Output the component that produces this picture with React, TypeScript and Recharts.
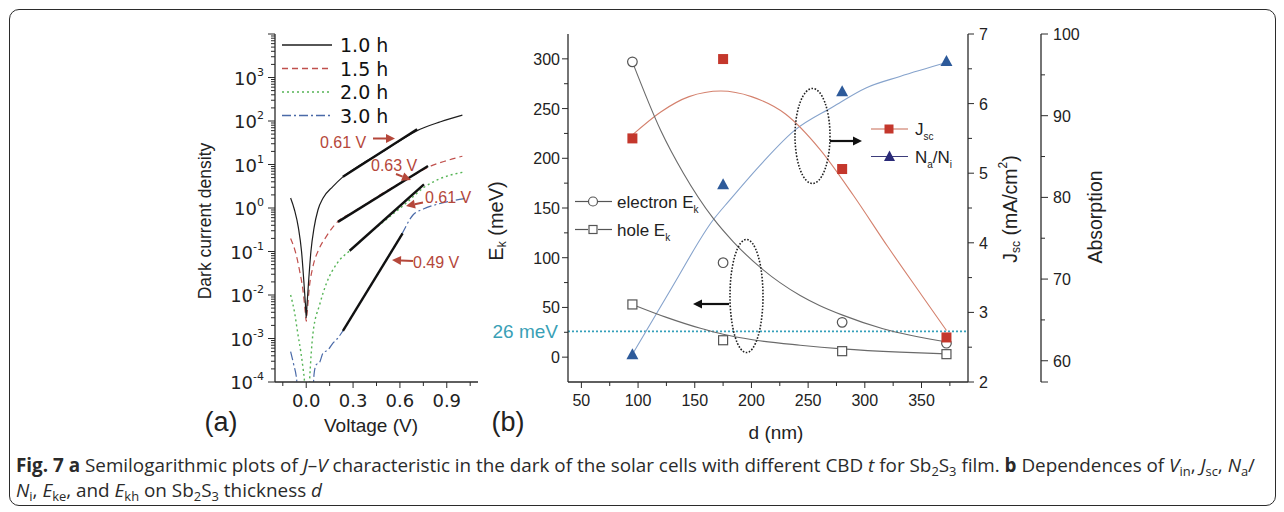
import React from "react";
import {
  LineChart,
  ComposedChart,
  Line,
  Scatter,
  XAxis,
  YAxis,
  ReferenceLine,
} from "recharts";

// ---------- panel (a): dark J–V curves ----------
const v10 = [-0.1, -0.075, -0.05, -0.03, -0.015, -0.005, 0, 0.005, 0.015, 0.03, 0.05, 0.075, 0.107, 0.17, 0.235, 0.35, 0.47, 0.6, 0.71, 0.86, 1.0];
const j10 = [1.7, 0.9, 0.35, 0.1, 0.02, 0.006, 0.003, 0.006, 0.02, 0.1, 0.35, 0.9, 1.67, 3.1, 5.2, 10, 18, 35, 60, 96, 137];

const v15 = [-0.1, -0.07, -0.043, -0.02, -0.006, 0, 0.006, 0.02, 0.043, 0.08, 0.128, 0.2, 0.3, 0.4, 0.5, 0.6, 0.7, 0.8, 0.9, 1.0];
const j15 = [0.2, 0.1, 0.037, 0.012, 0.004, 0.0025, 0.004, 0.015, 0.045, 0.11, 0.22, 0.48, 0.8, 1.35, 2.3, 3.7, 6.0, 9.3, 12.3, 15.5];

const v20 = [-0.1, -0.075, -0.054, -0.035, -0.02, -0.011, -0.004, 0.014, 0.021, 0.043, 0.086, 0.128, 0.2, 0.278, 0.35, 0.45, 0.55, 0.65, 0.75, 0.85, 0.93, 1.0];
const j20 = [0.01, 0.004, 0.0013, 0.0005, 0.0002, 0.0001, 0.00003, 0.00003, 0.0001, 0.0013, 0.006, 0.018, 0.055, 0.104, 0.18, 0.36, 0.7, 1.4, 2.9, 4.6, 5.8, 6.6];

const v30 = [-0.1, -0.08, -0.062, -0.05, 0.04, 0.05, 0.064, 0.085, 0.107, 0.14, 0.171, 0.2, 0.235, 0.3, 0.4, 0.5, 0.6, 0.685, 0.75, 0.85, 0.95, 1.02];
const j30 = [5e-4, 2.5e-4, 1.2e-4, 4e-5, 4e-5, 1.5e-4, 2.5e-4, 2.8e-4, 4.6e-4, 5.5e-4, 7.8e-4, 1e-3, 1.5e-3, 3.6e-3, 0.014, 0.054, 0.21, 0.7, 0.95, 1.25, 1.5, 1.65];

// straight fits (thick black) - start/end points
const fitV61a = [0.235, 0.71];
const fitJ61a = [5.2, 65];
const fitV63 = [0.203, 0.78];
const fitJ63 = [0.48, 9.2];
const fitV61b = [0.278, 0.754];
const fitJ61b = [0.104, 3.5];
const fitV49 = [0.235, 0.617];
const fitJ49 = [0.0015, 0.26];

const voltTicks = [-0.15, 0, 0.15, 0.3, 0.45, 0.6, 0.75, 0.9, 1.05];
const voltLabels = ["0.0", "0.3", "0.6", "0.9"];
const decades = [-4, -3, -2, -1, 0, 1, 2, 3];
const logTicks = decades
  .flatMap((e) => [1, 2, 3, 4, 5, 6, 7, 8, 9].map((m) => m * Math.pow(10, e)))
  .concat([1e4]);

// ---------- panel (b): values vs Sb2S3 thickness ----------
const thickness = [95, 175, 280, 372];
const electronEk = [297, 95, 35, 14];
const holeEk = [53, 17, 6, 3];
const jscVals = [5.5, 6.64, 5.06, 2.64];
const naNiVals = [60.8, 81.6, 93.0, 96.7]; // plotted against the 3rd axis

// guide curves drawn through the points
const jscFitD = [95, 120, 145, 173, 200, 230, 260, 290, 320, 350, 372];
const jscFitY = [5.55, 5.88, 6.1, 6.18, 6.1, 5.85, 5.35, 4.68, 3.95, 3.25, 2.74];
const naFitD = [95, 130, 166, 181, 210, 238, 272, 301, 331, 372];
const naFitY = [60.8, 69.0, 77.2, 79.7, 84.3, 88.2, 91.1, 93.4, 94.8, 96.5];
const elFitD = [95, 120, 140, 166, 184, 207, 243, 260, 281, 316, 374];
const elFitY = [297, 228, 185, 140, 116, 91, 62, 52, 42, 28.5, 15];
const hoFitD = [95, 125, 155, 175, 201, 243, 280, 331, 372];
const hoFitY = [53, 40, 29, 23, 17.5, 12, 8.3, 5, 3.3];

const dTicks = [50, 75, 100, 125, 150, 175, 200, 225, 250, 275, 300, 325, 350, 375];
const ekTicks = [0, 25, 50, 75, 100, 125, 150, 175, 200, 225, 250, 275, 300];
const jscTicks = [2, 2.5, 3, 3.5, 4, 4.5, 5, 5.5, 6, 6.5, 7];
const absTicks = [57.4, 60, 65, 70, 75, 80, 85, 90, 95, 100];

const zip = (xs: number[], ys: number[], kx: string, ky: string) =>
  xs.map((x, i) => ({ [kx]: x, [ky]: ys[i] }));

const AX = "#2a2a2a";
const SANS = "Liberation Sans, Arial, sans-serif";
const DJV = "DejaVu Sans, sans-serif";
const RED_T = "#b5473a";

// ---- tick renderers (tickSize 0 so x/y is the axis line) ----
function LogTick(p: any) {
  const { x, y, payload } = p;
  const lg = Math.log10(payload.value);
  const e = Math.round(lg);
  const major = Math.abs(lg - e) < 1e-6;
  return (
    <g>
      <line x1={x} x2={x - (major ? 7 : 4)} y1={y} y2={y} stroke={AX} />
      {major && e < 4 && (
        <text x={x - 11} y={y + 7} textAnchor="end" fontSize={18} fontFamily={DJV} fill="#222">
          10<tspan dy={-9} fontSize={11}>{e}</tspan>
        </text>
      )}
    </g>
  );
}

function VoltTick(p: any) {
  const { x, y, payload } = p;
  const v = payload.value;
  const idx = [0, 0.3, 0.6, 0.9].findIndex((m) => Math.abs(m - v) < 1e-6);
  const major = idx >= 0;
  return (
    <g>
      <line x1={x} x2={x} y1={y} y2={y + (major ? 6 : 4)} stroke={AX} />
      {major && (
        <text x={x} y={y + 25} textAnchor="middle" fontSize={18} fontFamily={DJV} fill="#222">
          {voltLabels[idx]}
        </text>
      )}
    </g>
  );
}

function DTick(p: any) {
  const { x, y, payload } = p;
  const major = payload.value % 50 === 0 && payload.value <= 350;
  return (
    <g>
      <line x1={x} x2={x} y1={y} y2={y + (major ? 6 : 4)} stroke={AX} />
      {major && (
        <text x={x} y={y + 24} textAnchor="middle" fontSize={16} fontFamily={SANS} fill="#222">
          {payload.value}
        </text>
      )}
    </g>
  );
}

function EkTick(p: any) {
  const { x, y, payload } = p;
  const major = payload.value % 50 === 0;
  return (
    <g>
      <line x1={x} x2={x - (major ? 6 : 4)} y1={y} y2={y} stroke={AX} />
      {major && (
        <text x={x - 8} y={y + 6} textAnchor="end" fontSize={16} fontFamily={SANS} fill="#222">
          {payload.value}
        </text>
      )}
    </g>
  );
}

function JscTick(p: any) {
  const { x, y, payload } = p;
  const major = Number.isInteger(payload.value);
  return (
    <g>
      <line x1={x} x2={x + (major ? 6 : 4)} y1={y} y2={y} stroke={AX} />
      {major && (
        <text x={x + 11} y={y + 6} textAnchor="start" fontSize={16} fontFamily={SANS} fill="#222">
          {payload.value}
        </text>
      )}
    </g>
  );
}

function AbsTick(p: any) {
  const { x, y, payload } = p;
  const v = payload.value;
  const labeled = v % 10 === 0;
  const long = labeled || !Number.isInteger(v);
  return (
    <g>
      <line x1={x} x2={x + (long ? 7 : 4)} y1={y} y2={y} stroke={AX} />
      {labeled && (
        <text x={x + 12} y={y + 6} textAnchor="start" fontSize={16} fontFamily={SANS} fill="#222">
          {v}
        </text>
      )}
    </g>
  );
}

const sq = (color: string, size: number, open = false) => (p: any) => (
  <rect
    x={p.cx - size / 2}
    y={p.cy - size / 2}
    width={size}
    height={size}
    fill={open ? "#fff" : color}
    stroke={color}
    strokeWidth={open ? 1.2 : 0}
  />
);
const circ = (p: any) => <circle cx={p.cx} cy={p.cy} r={4.8} fill="#fff" stroke="#555" strokeWidth={1.2} />;
const tri = (p: any) => (
  <polygon points={`${p.cx},${p.cy - 6} ${p.cx - 6},${p.cy + 5} ${p.cx + 6},${p.cy + 5}`} fill="#2d5a9a" />
);

function PanelA() {
  const axisLine = { stroke: AX, strokeWidth: 1.3 };
  const line = (data: any[], color: string, dash: string | undefined, key: string, w = 1.2) => (
    <Line
      key={key}
      data={data}
      dataKey="j"
      type="monotone"
      stroke={color}
      strokeWidth={w}
      strokeDasharray={dash}
      dot={false}
      isAnimationActive={false}
    />
  );
  return (
    <LineChart width={360} height={400} margin={{ top: 14, right: 22, bottom: 0, left: 0 }}>
      <XAxis
        dataKey="v"
        type="number"
        domain={[-0.2, 1.1]}
        ticks={voltTicks}
        interval={0}
        allowDataOverflow
        height={38}
        tickSize={0}
        tickMargin={0}
        tickLine={false}
        axisLine={axisLine}
        tick={(p: any) => <VoltTick {...p} />}
      />
      <XAxis xAxisId="top" orientation="top" type="number" domain={[-0.2, 1.1]} height={0} tick={false} tickLine={false} axisLine={axisLine} />
      <YAxis
        type="number"
        scale="log"
        domain={[1e-4, 1e4]}
        ticks={logTicks}
        interval={0}
        allowDataOverflow
        width={135}
        tickSize={0}
        tickMargin={0}
        tickLine={false}
        axisLine={axisLine}
        tick={(p: any) => <LogTick {...p} />}
      />
      <YAxis yAxisId="r" orientation="right" width={0} domain={[0, 1]} tick={false} tickLine={false} axisLine={axisLine} />
      {line(zip(v30, j30, "v", "j"), "#4a6aa8", "9 3 2 3", "c30")}
      {line(zip(v20, j20, "v", "j"), "#55b455", "2 3", "c20", 1.4)}
      {line(zip(v15, j15, "v", "j"), "#c0504d", "6 4", "c15")}
      {line(zip(v10, j10, "v", "j"), "#1e1e1e", undefined, "c10")}
      {line(zip(fitV61a, fitJ61a, "v", "j"), "#111", undefined, "f1", 2.4)}
      {line(zip(fitV63, fitJ63, "v", "j"), "#111", undefined, "f2", 2.4)}
      {line(zip(fitV61b, fitJ61b, "v", "j"), "#111", undefined, "f3", 2.4)}
      {line(zip(fitV49, fitJ49, "v", "j"), "#111", undefined, "f4", 2.4)}
    </LineChart>
  );
}

// axis ids: "a_jsc" sits next to the plot, "z_abs" outside it
const JSC_ID = "a_jsc";
const ABS_ID = "z_abs";

function PanelB() {
  const axisLine = { stroke: AX, strokeWidth: 1.3 };
  const fit = (xs: number[], ys: number[], axis: string, color: string, key: string) => (
    <Line
      key={key}
      data={zip(xs, ys, "d", "y")}
      dataKey="y"
      yAxisId={axis}
      type="monotone"
      stroke={color}
      strokeWidth={1.1}
      dot={false}
      isAnimationActive={false}
    />
  );
  return (
    <ComposedChart width={680} height={412} margin={{ top: 14, right: 19, bottom: 0, left: 0 }}>
      <XAxis
        dataKey="d"
        type="number"
        domain={[38.2, 391]}
        ticks={dTicks}
        interval={0}
        allowDataOverflow
        height={50}
        tickSize={0}
        tickMargin={0}
        tickLine={false}
        axisLine={axisLine}
        tick={(p: any) => <DTick {...p} />}
      />
      <XAxis xAxisId="top" orientation="top" type="number" domain={[38.2, 391]} height={0} tick={false} tickLine={false} axisLine={axisLine} />
      <YAxis
        yAxisId="ek"
        type="number"
        domain={[-25, 325]}
        ticks={ekTicks}
        interval={0}
        allowDataOverflow
        width={108}
        tickSize={0}
        tickMargin={0}
        tickLine={false}
        axisLine={axisLine}
        tick={(p: any) => <EkTick {...p} />}
      />
      <YAxis
        yAxisId={ABS_ID}
        orientation="right"
        type="number"
        domain={[57.4, 100]}
        ticks={absTicks}
        interval={0}
        allowDataOverflow
        width={80}
        tickSize={0}
        tickMargin={0}
        tickLine={false}
        axisLine={axisLine}
        tick={(p: any) => <AbsTick {...p} />}
      />
      <YAxis
        yAxisId={JSC_ID}
        orientation="right"
        type="number"
        domain={[2, 7]}
        ticks={jscTicks}
        interval={0}
        allowDataOverflow
        width={73}
        tickSize={0}
        tickMargin={0}
        tickLine={false}
        axisLine={axisLine}
        tick={(p: any) => <JscTick {...p} />}
      />
      <ReferenceLine
        yAxisId="ek"
        y={26}
        stroke="#35a0ba"
        strokeWidth={1.7}
        strokeDasharray="2 2"
        label={{ value: "26 meV", position: "left", offset: 10, fill: "#3a9fb6", fontSize: 19, fontFamily: SANS }}
      />
      {fit(naFitD, naFitY, ABS_ID, "#86a3cc", "nf")}
      {fit(jscFitD, jscFitY, JSC_ID, "#d4816d", "jf")}
      {fit(elFitD, elFitY, "ek", "#6a6a6a", "ef")}
      {fit(hoFitD, hoFitY, "ek", "#6a6a6a", "hf")}
      <Scatter data={zip(thickness, electronEk, "d", "y")} dataKey="y" yAxisId="ek" shape={circ} isAnimationActive={false} />
      <Scatter data={zip(thickness, holeEk, "d", "y")} dataKey="y" yAxisId="ek" shape={sq("#555", 9, true)} isAnimationActive={false} />
      <Scatter data={zip(thickness, jscVals, "d", "y")} dataKey="y" yAxisId={JSC_ID} shape={sq("#c4372c", 10)} isAnimationActive={false} />
      <Scatter data={zip(thickness, naNiVals, "d", "y")} dataKey="y" yAxisId={ABS_ID} shape={tri} isAnimationActive={false} />
    </ComposedChart>
  );
}

function Arrow({ x1, y1, x2, y2, color, w = 2 }: any) {
  const a = Math.atan2(y2 - y1, x2 - x1);
  const L = 9;
  const H = 4.5;
  const bx = x2 - L * Math.cos(a);
  const by = y2 - L * Math.sin(a);
  const s = Math.sin(a);
  const c = Math.cos(a);
  return (
    <g>
      <line x1={x1} y1={y1} x2={bx} y2={by} stroke={color} strokeWidth={w} />
      <polygon points={`${x2},${y2} ${bx + H * s},${by - H * c} ${bx - H * s},${by + H * c}`} fill={color} />
    </g>
  );
}

function Overlay() {
  const legA = [
    { label: "1.0 h", color: "#1e1e1e", dash: undefined, y: 45 },
    { label: "1.5 h", color: "#c0504d", dash: "6 4", y: 68.5 },
    { label: "2.0 h", color: "#55b455", dash: "2 3", y: 92 },
    { label: "3.0 h", color: "#4a6aa8", dash: "9 3 2 3", y: 115.5 },
  ];
  const sub = 13;
  return (
    <svg width={1284} height={512} style={{ position: "absolute", left: 0, top: 0, pointerEvents: "none" }}>
      {/* panel (a) legend */}
      {legA.map((r) => (
        <g key={r.label}>
          <line x1={282} x2={332} y1={r.y} y2={r.y} stroke={r.color} strokeWidth={1.3} strokeDasharray={r.dash} />
          <text x={340} y={r.y + 7} fontSize={19} fontFamily={DJV} fill="#111">
            {r.label}
          </text>
        </g>
      ))}
      {/* slope annotations */}
      <g fontFamily={SANS} fontSize={16} fill={RED_T}>
        <text x={320} y={148}>0.61 V</text>
        <text x={371} y={171}>0.63 V</text>
        <text x={425} y={203}>0.61 V</text>
        <text x={413} y={268}>0.49 V</text>
      </g>
      <Arrow x1={373} y1={138.5} x2={395} y2={138.5} color={RED_T} />
      <Arrow x1={396} y1={174} x2={411} y2={180} color={RED_T} />
      <Arrow x1={423} y1={202.5} x2={406} y2={206} color={RED_T} />
      <Arrow x1={413} y1={261} x2={392} y2={260} color={RED_T} />

      {/* axis titles */}
      <text transform="translate(205,221) rotate(-90)" textAnchor="middle" dominantBaseline="central" fontSize={17.5} fontFamily={SANS} fill="#222">
        Dark current density
      </text>
      <text x={371} y={425} textAnchor="middle" dominantBaseline="central" fontSize={19} fontFamily={SANS} fill="#222">
        Voltage (V)
      </text>
      <text x={221} y={422} textAnchor="middle" dominantBaseline="central" fontSize={27} fontFamily={SANS} fill="#222">
        (a)
      </text>
      <text x={508} y={422} textAnchor="middle" dominantBaseline="central" fontSize={27} fontFamily={SANS} fill="#222">
        (b)
      </text>
      <text x={776} y={432} textAnchor="middle" dominantBaseline="central" fontSize={19} fontFamily={SANS} fill="#222">
        d (nm)
      </text>
      <text transform="translate(496,221) rotate(-90)" textAnchor="middle" dominantBaseline="central" fontSize={20} fontFamily={SANS} fill="#222">
        E<tspan fontSize={12} dy={6}>k</tspan>
        <tspan dy={-6}> (meV)</tspan>
      </text>
      <text transform="translate(1010,209) rotate(-90)" textAnchor="middle" dominantBaseline="central" fontSize={19.5} fontFamily={SANS} fill="#222">
        J<tspan fontSize={12} dy={6}>sc</tspan>
        <tspan dy={-6}> (mA/cm</tspan>
        <tspan fontSize={12} dy={-7}>2</tspan>
        <tspan dy={7}>)</tspan>
      </text>
      <text transform="translate(1095,217) rotate(-90)" textAnchor="middle" dominantBaseline="central" fontSize={19.5} fontFamily={SANS} fill="#222">
        Absorption
      </text>

      {/* panel (b) legends */}
      <g stroke="#555" strokeWidth={1.2}>
        <line x1={575} x2={588} y1={201.5} y2={201.5} />
        <line x1={598} x2={612} y1={201.5} y2={201.5} />
        <circle cx={593} cy={201.5} r={4.5} fill="#fff" />
        <line x1={575} x2={588} y1={229.5} y2={229.5} />
        <line x1={598} x2={612} y1={229.5} y2={229.5} />
        <rect x={589} y={225.5} width={8} height={8} fill="#fff" />
      </g>
      <g fontFamily={SANS} fontSize={17} fill="#222">
        <text x={617} y={207.5}>
          electron E<tspan fontSize={10} dy={5}>k</tspan>
        </text>
        <text x={617} y={235.5}>
          hole E<tspan fontSize={10} dy={5}>k</tspan>
        </text>
        <text x={915} y={135}>
          J<tspan fontSize={10} dy={5}>sc</tspan>
        </text>
        <text x={915} y={162.5}>
          N<tspan fontSize={10} dy={5}>a</tspan>
          <tspan dy={-5}>/N</tspan>
          <tspan fontSize={10} dy={5}>i</tspan>
        </text>
      </g>
      <line x1={871} x2={908} y1={129} y2={129} stroke="#c86a55" strokeWidth={1.2} />
      <rect x={884.5} y={124.5} width={9} height={9} fill="#c4372c" />
      <line x1={871} x2={908} y1={156.5} y2={156.5} stroke="#3c3c7a" strokeWidth={1.2} />
      <polygon points="889.5,150.5 884,161 895,161" fill="#2a2a78" />

      {/* grouping ellipses and arrows */}
      <ellipse cx={812.5} cy={136} rx={17.5} ry={47.5} fill="none" stroke="#222" strokeWidth={1.6} strokeDasharray="1.6 1.6" />
      <ellipse cx={746.5} cy={296} rx={16.5} ry={56.5} fill="none" stroke="#222" strokeWidth={1.6} strokeDasharray="1.6 1.6" />
      <Arrow x1={830} y1={141} x2={862} y2={141} color="#111" w={2.2} />
      <Arrow x1={729} y1={304} x2={693} y2={304} color="#111" w={2.2} />

      {/* caption */}
      <g fontFamily="Open Sans, sans-serif" fontSize={19} fill="#2a2a2a">
        <text x={16} y={472} textLength={1239} lengthAdjust="spacingAndGlyphs">
          <tspan fontWeight="bold">Fig. 7 a</tspan> Semilogarithmic plots of <tspan fontStyle="italic">J</tspan>–
          <tspan fontStyle="italic">V</tspan> characteristic in the dark of the solar cells with different CBD{" "}
          <tspan fontStyle="italic">t</tspan> for Sb<tspan fontSize={sub} dy={4}>2</tspan>
          <tspan dy={-4}>S</tspan>
          <tspan fontSize={sub} dy={4}>3</tspan>
          <tspan dy={-4}> film. </tspan>
          <tspan fontWeight="bold">b</tspan> Dependences of <tspan fontStyle="italic">V</tspan>
          <tspan fontSize={sub} dy={4}>in</tspan>
          <tspan dy={-4}>, </tspan>
          <tspan fontStyle="italic">J</tspan>
          <tspan fontSize={sub} dy={4}>sc</tspan>
          <tspan dy={-4}>, </tspan>
          <tspan fontStyle="italic">N</tspan>
          <tspan fontSize={sub} dy={4}>a</tspan>
          <tspan dy={-4}>/</tspan>
        </text>
        <text x={16} y={497} textLength={306} lengthAdjust="spacingAndGlyphs">
          <tspan fontStyle="italic">N</tspan>
          <tspan fontSize={sub} dy={4}>i</tspan>
          <tspan dy={-4}>, </tspan>
          <tspan fontStyle="italic">E</tspan>
          <tspan fontSize={sub} dy={4}>ke</tspan>
          <tspan dy={-4}>, and </tspan>
          <tspan fontStyle="italic">E</tspan>
          <tspan fontSize={sub} dy={4}>kh</tspan>
          <tspan dy={-4}> on Sb</tspan>
          <tspan fontSize={sub} dy={4}>2</tspan>
          <tspan dy={-4}>S</tspan>
          <tspan fontSize={sub} dy={4}>3</tspan>
          <tspan dy={-4}> thickness </tspan>
          <tspan fontStyle="italic">d</tspan>
        </text>
      </g>
    </svg>
  );
}

export default function App() {
  return (
    <div style={{ position: "absolute", left: 0, top: 0, width: 1284, height: 512, background: "#fff", overflow: "hidden" }}>
      <div
        style={{
          position: "absolute",
          left: 9,
          top: 9,
          width: 1265,
          height: 495,
          border: "1.5px solid #2b2b2b",
          borderRadius: 10,
        }}
      />
      <div style={{ position: "absolute", left: 140, top: 20 }}>
        <PanelA />
      </div>
      <div style={{ position: "absolute", left: 460, top: 20 }}>
        <PanelB />
      </div>
      <Overlay />
    </div>
  );
}
